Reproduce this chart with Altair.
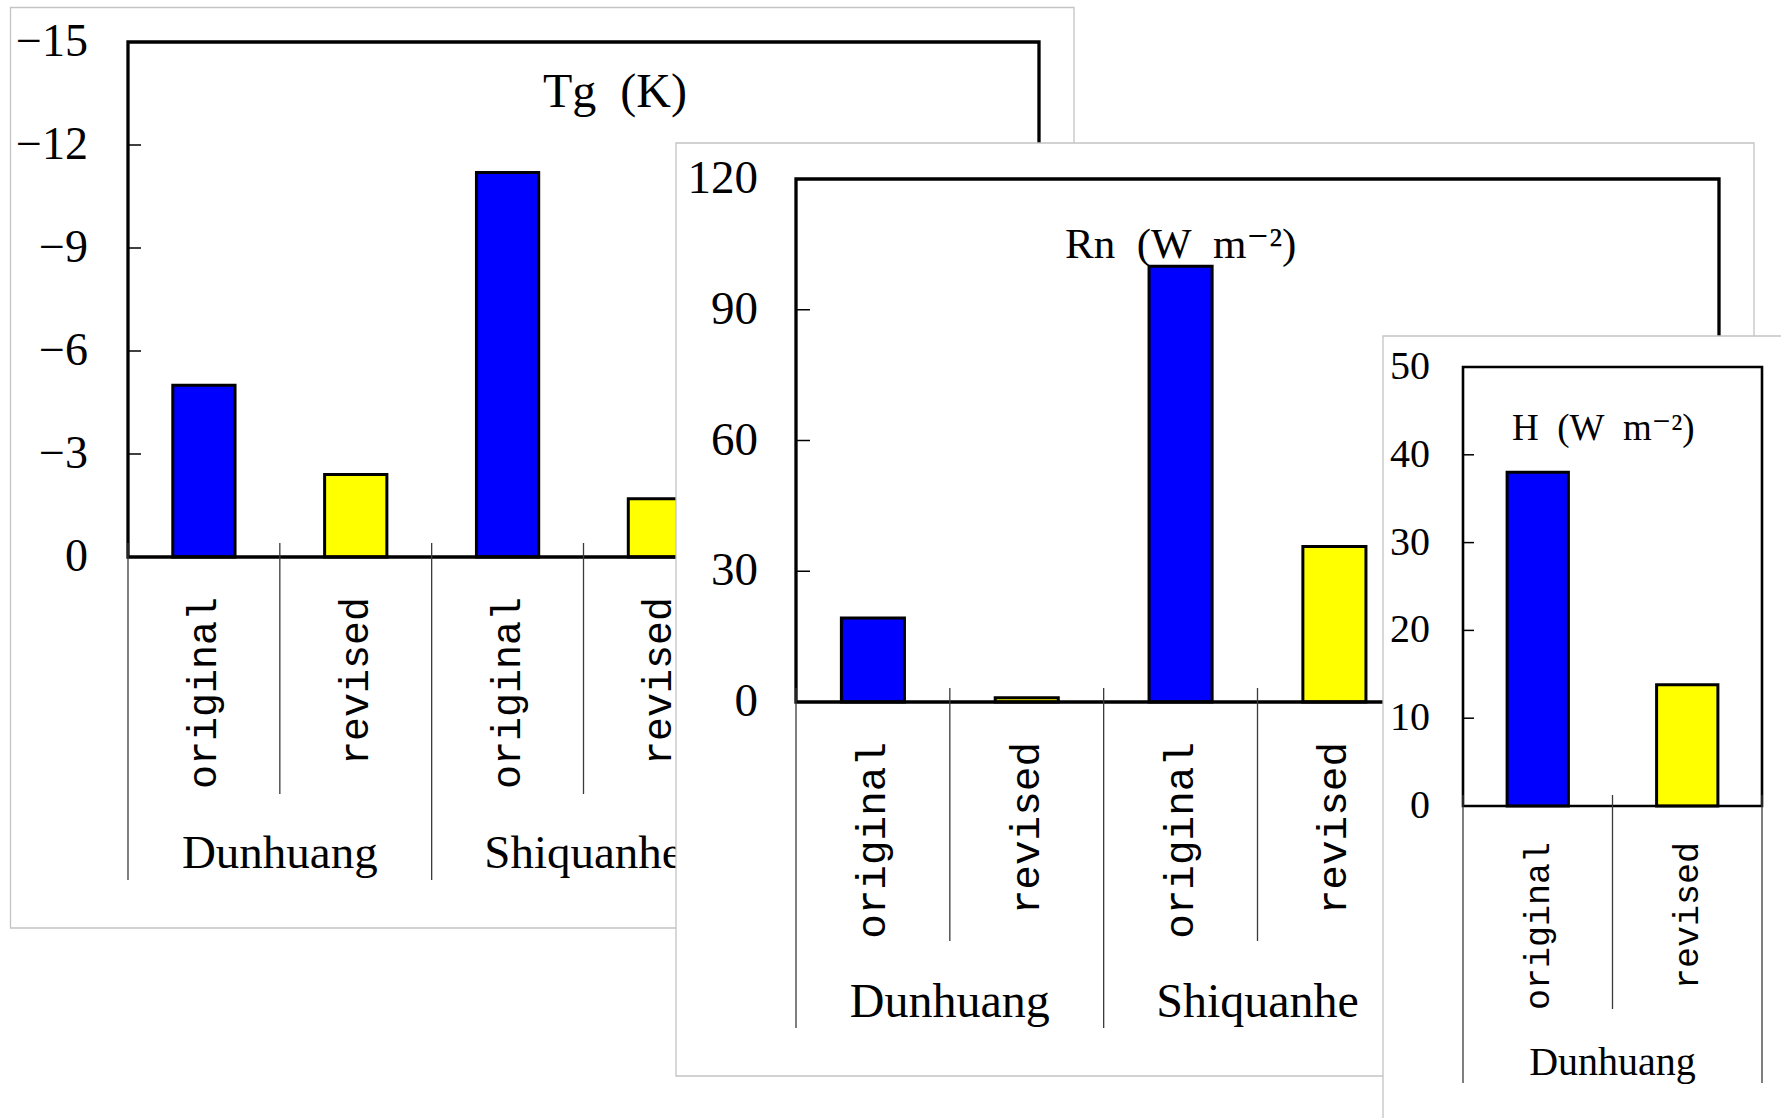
import altair as alt
import pandas as pd

# Category structure shared by the three panels
stations = ["Dunhuang", "Shiquanhe"]
versions = ["original", "revised"]
bar_colors = ["#0000ff", "#ffff00"]

# Ground temperature bias Tg (K): Dunhuang original/revised, Shiquanhe original/revised
tg_values = [-5.0, -2.4, -11.2, -1.7]
# Net radiation Rn (W m-2), same order
rn_values = [19.3, 1.0, 100.0, 35.7]
# Sensible heat flux H (W m-2), Dunhuang only
h_values = [38.0, 13.8]

tg_ticks = [-15, -12, -9, -6, -3, 0]
rn_ticks = [0, 30, 60, 90, 120]
h_ticks = [0, 10, 20, 30, 40, 50]

SERIF = "Liberation Serif, DejaVu Serif, serif"
MONO = "Liberation Mono, DejaVu Sans Mono, monospace"

# Pixel layout of each panel card (card = white sheet, plot = black frame)
LAYOUT = {
    "tg": dict(card=(10.5, 7.5, 1074, 928), plot=(128, 42, 1039, 557), slots=6,
               frame_w=3.3, tick_len=13, tick_x=88, tick_fs=46,
               sep_top=543, inner_bottom=794, group_bottom=880,
               ver_top=597, ver_fs=40, grp_base=868, grp_fs=47,
               title_xy=(543, 107), title_fs=48),
    "rn": dict(card=(676, 143, 1754, 1076), plot=(796, 179, 1719, 702), slots=6,
               frame_w=3.3, tick_len=14, tick_x=758, tick_fs=47,
               sep_top=688, inner_bottom=941, group_bottom=1028,
               ver_top=742, ver_fs=41, grp_base=1017, grp_fs=48,
               title_xy=(1065, 258), title_fs=43),
    "h": dict(card=(1383, 336, 1800, 1130), plot=(1463, 367, 1762, 806), slots=2,
              frame_w=2.6, tick_len=11, tick_x=1430, tick_fs=40,
              sep_top=795, inner_bottom=1009, group_bottom=1083,
              ver_top=842, ver_fs=35, grp_base=1075, grp_fs=40,
              title_xy=(1512, 440), title_fs=37),
}


def bar_table(values):
    return pd.DataFrame({
        "slot": list(range(len(values))),
        "station": [stations[i // 2] for i in range(len(values))],
        "version": [versions[i % 2] for i in range(len(values))],
        "value": values,
    })


def panel(values, ticks, y_domain, L, title):
    x0, y0, x1, y1 = L["plot"]
    xs = alt.Scale(domain=[0, L["slots"]], range=[x0, x1], nice=False, zero=False)
    # zero sits on the bottom edge of the frame in every panel
    y_range = [y0, y1] if y_domain[0] < 0 else [y1, y0]
    ys = alt.Scale(domain=y_domain, range=y_range, nice=False, zero=False)

    one = pd.DataFrame({"k": [0]})
    bars_df = bar_table(values)
    n_groups = len(values) // 2
    grp_df = pd.DataFrame({"station": stations[:n_groups],
                           "center": [2 * g + 1 for g in range(n_groups)]})
    tick_df = pd.DataFrame({"t": ticks})
    bounds = pd.DataFrame({"b": list(range(L["slots"] + 1))})
    cx0, cy0, cx1, cy1 = L["card"]

    card = alt.Chart(one).mark_rect(fill="white", stroke="#c4c4c4", strokeWidth=1.3).encode(
        x=alt.value(cx0), x2=alt.value(cx1), y=alt.value(cy0), y2=alt.value(cy1))

    bars = alt.Chart(bars_df).transform_calculate(
        left="datum.slot + 0.295", right="datum.slot + 0.705"
    ).mark_rect(stroke="black", strokeWidth=3).encode(
        x=alt.X("left:Q", scale=xs, axis=None),
        x2="right:Q",
        y=alt.Y("value:Q", scale=ys, axis=None),
        y2=alt.datum(0),
        color=alt.Color("version:N", scale=alt.Scale(domain=versions, range=bar_colors), legend=None),
    )

    frame = alt.Chart(one).mark_rect(fill="white", fillOpacity=0, stroke="black",
                                     strokeWidth=L["frame_w"]).encode(
        x=alt.value(x0), x2=alt.value(x1), y=alt.value(y0), y2=alt.value(y1))

    tick_marks = alt.Chart(tick_df).mark_rule(color="black", strokeWidth=1.5).encode(
        y=alt.Y("t:Q", scale=ys, axis=None),
        x=alt.value(x0), x2=alt.value(x0 + L["tick_len"]))

    tick_labels = alt.Chart(tick_df).mark_text(
        align="right", baseline="middle", font=SERIF, fontSize=L["tick_fs"], color="black"
    ).encode(
        y=alt.Y("t:Q", scale=ys, axis=None),
        x=alt.value(L["tick_x"]),
        text=alt.Text("t:Q", format="d"))

    inner_sep = alt.Chart(bounds).transform_filter("datum.b % 2 == 1").mark_rule(
        color="#3a3a3a", strokeWidth=1.3).encode(
        x=alt.X("b:Q", scale=xs, axis=None),
        y=alt.value(L["sep_top"]), y2=alt.value(L["inner_bottom"]))

    group_sep = alt.Chart(bounds).transform_filter("datum.b % 2 == 0").mark_rule(
        color="#3a3a3a", strokeWidth=1.3).encode(
        x=alt.X("b:Q", scale=xs, axis=None),
        y=alt.value(L["sep_top"]), y2=alt.value(L["group_bottom"]))

    ver_labels = alt.Chart(bars_df).transform_calculate(mid="datum.slot + 0.5").mark_text(
        angle=270, align="right", baseline="middle", font=MONO, fontSize=L["ver_fs"], color="black"
    ).encode(
        x=alt.X("mid:Q", scale=xs, axis=None),
        y=alt.value(L["ver_top"]),
        text="version:N")

    grp_labels = alt.Chart(grp_df).mark_text(
        align="center", baseline="alphabetic", font=SERIF, fontSize=L["grp_fs"], color="black"
    ).encode(
        x=alt.X("center:Q", scale=xs, axis=None),
        y=alt.value(L["grp_base"]),
        text="station:N")

    tx, ty = L["title_xy"]
    title_mark = alt.Chart(one).mark_text(
        text=title, align="left", baseline="alphabetic", font=SERIF,
        fontSize=L["title_fs"], color="black"
    ).encode(x=alt.value(tx), y=alt.value(ty))

    return alt.layer(card, bars, frame, tick_marks, tick_labels, inner_sep, group_sep,
                     ver_labels, grp_labels, title_mark)


p_tg = panel(tg_values, tg_ticks, [-15, 0], LAYOUT["tg"], "Tg\u2002(K)")
p_rn = panel(rn_values, rn_ticks, [0, 120], LAYOUT["rn"], "Rn\u2002(W\u2002m\u207b\u00b2)")
p_h = panel(h_values, h_ticks, [0, 50], LAYOUT["h"], "H\u2002(W\u2002m\u207b\u00b2)")

chart = alt.layer(p_tg, p_rn, p_h).resolve_scale(
    x="independent", y="independent"
).properties(
    width=1781, height=1118, padding=0,
    autosize=alt.AutoSizeParams(type="none"),
    background="white",
).configure_view(stroke=None)

chart.save("out.html", embed_options={"renderer": "svg", "actions": False})
